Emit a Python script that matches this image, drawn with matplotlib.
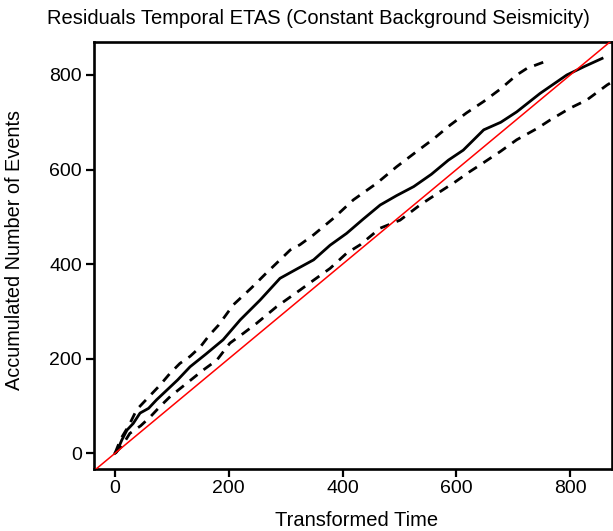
import matplotlib.pyplot as plt

plt.rcParams['font.family'] = ['Liberation Sans', 'DejaVu Sans']

# Cumulative number of events against transformed time
solid_x = [0, 3, 12, 21, 32, 44, 59, 73, 88, 110, 132, 160, 190, 220, 255, 290, 320, 349,
           378, 407, 436, 466, 495, 525, 556, 586, 612, 648, 678, 706, 747, 794, 825, 856]
solid_y = [0, 3, 28, 49, 63, 85, 95, 113, 130, 155, 183, 210, 240, 282, 324, 370, 390, 409,
           440, 465, 495, 525, 545, 564, 590, 620, 641, 684, 700, 722, 761, 800, 818, 835]

# Upper and lower error bands
upper_x = [0, 10, 25, 38, 60, 79, 96, 114, 132, 150, 166, 182, 208, 240, 265, 290, 308, 325,
           349, 384, 419, 460, 495, 530, 560, 589, 618, 648, 677, 706, 724, 755]
upper_y = [0, 30, 60, 92, 120, 144, 168, 190, 205, 225, 250, 271, 314, 350, 380, 409, 430, 441,
           462, 497, 536, 571, 606, 638, 665, 694, 720, 744, 770, 800, 814, 828]

lower_x = [0, 12, 26, 45, 62, 80, 97, 126, 155, 179, 202, 226, 249, 284, 325, 349, 378, 407,
           431, 466, 501, 536, 571, 598, 624, 642, 677, 706, 742, 765, 800, 829, 865, 880]
lower_y = [0, 15, 42, 58, 77, 100, 120, 148, 176, 197, 233, 254, 275, 310, 345, 366, 391, 423,
           441, 476, 493, 525, 553, 574, 596, 610, 638, 663, 687, 705, 730, 747, 779, 790]

ticks = [0, 200, 400, 600, 800]
x_range = [-36.4, 874]
y_range = [-33.2, 870.4]

fig = plt.figure(figsize=(6.13, 5.31), dpi=100)
ax = fig.add_axes([0.1538, 0.1168, 0.8451, 0.8047])

# reference line y = x
ax.plot([-100, 1000], [-100, 1000], color='red', lw=1.1, zorder=3)
ax.plot(solid_x, solid_y, color='black', lw=2.0, zorder=2)
ax.plot(upper_x, upper_y, color='black', lw=2.0, dashes=(3.5, 2.8), zorder=2)
ax.plot(lower_x, lower_y, color='black', lw=2.0, dashes=(3.5, 2.8), zorder=2)

ax.set_xlim(x_range)
ax.set_ylim(y_range)
ax.set_xticks(ticks)
ax.set_yticks(ticks)
ax.tick_params(length=6, width=1.6, labelsize=14, pad=2)
ax.tick_params(axis='y', pad=3)
for s in ax.spines.values():
    s.set_linewidth(1.9)

fig.text(15 / 613, 1 - 250 / 531, 'Accumulated Number of Events', rotation=90,
         ha='center', va='center', fontsize=14.3)
fig.text(357 / 613, 1 - 520 / 531, 'Transformed Time', ha='center', va='center', fontsize=14.5)
fig.text(318.6 / 613, 1 - 19 / 531, 'Residuals Temporal ETAS (Constant Background Seismicity)',
         ha='center', va='center', fontsize=14.5)

fig.savefig('out.png', dpi=100)
